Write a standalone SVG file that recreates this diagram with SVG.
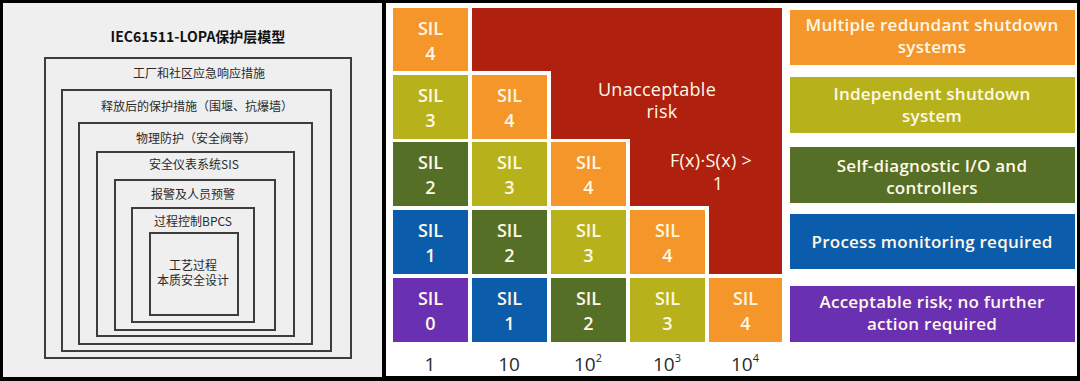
<svg xmlns="http://www.w3.org/2000/svg" width="1080" height="381" viewBox="0 0 1080 381">
<style>
.layer{fill:#efefef;stroke:#3d3d3d;stroke-width:2}
.cn{font-family:"Noto Sans CJK SC","Noto Sans",sans-serif;font-size:12px;fill:#2a2a2a;text-anchor:middle}
.title{font-family:"Noto Sans CJK SC","Noto Sans",sans-serif;font-size:14px;font-weight:bold;fill:#111;text-anchor:middle}
.sil{font-family:"Open Sans","Noto Sans",sans-serif;font-size:18px;font-weight:600;fill:#fff8e6;text-anchor:middle}
.big{font-family:"Open Sans","Noto Sans",sans-serif;font-size:18px;fill:#fff8e6;text-anchor:middle;letter-spacing:0.3px}
.lab{font-family:"Open Sans","Noto Sans",sans-serif;font-size:17px;font-weight:600;letter-spacing:0.25px;fill:#fff8e6;text-anchor:middle}
.ax{font-family:"Open Sans","Noto Sans",sans-serif;font-size:19px;fill:#2a2a2a;text-anchor:middle}
.sup{font-size:11px}
.or{fill:#f5962a}.ol{fill:#b7b21c}.gr{fill:#566f27}.bl{fill:#0b5caa}.pu{fill:#6a30b2}.rd{fill:#b0200e}
</style>
<rect x="0" y="0" width="1080" height="381" fill="#000"/>
<rect x="3" y="3" width="379" height="374" fill="#efefef"/>
<rect x="386" y="3" width="691" height="373" fill="#fff"/>

<g id="left-panel">
<text class="title" x="198" y="42">IEC61511-LOPA保护层模型</text>
<g id="layer1"><rect class="layer" x="45" y="58" width="306" height="300"/><text class="cn" x="199" y="77.5">工厂和社区应急响应措施</text></g>
<g id="layer2"><rect class="layer" x="62" y="90" width="269" height="261"/><text class="cn" x="197" y="111">释放后的保护措施（围堰、抗爆墙）</text></g>
<g id="layer3"><rect class="layer" x="79" y="123" width="233" height="221"/><text class="cn" x="196" y="142.5">物理防护（安全阀等）</text></g>
<g id="layer4"><rect class="layer" x="97" y="152" width="197" height="184"/><text class="cn" x="194" y="168.5">安全仪表系统SIS</text></g>
<g id="layer5"><rect class="layer" x="115" y="180" width="160" height="150"/><text class="cn" x="193" y="198.5">报警及人员预警</text></g>
<g id="layer6"><rect class="layer" x="132" y="208" width="122" height="114"/><text class="cn" x="193" y="226">过程控制BPCS</text></g>
<g id="layer7"><rect class="layer" x="150" y="233" width="88" height="82"/><text class="cn" x="193" y="269.5">工艺过程</text><text class="cn" x="193" y="284.5">本质安全设计</text></g>
</g>

<g id="risk-region">
<polygon class="rd" points="472,8 782,8 782,274 709,274 709,206 630,206 630,139 551,139 551,71 472,71"/>
<text class="big" x="657" y="96">Unacceptable</text>
<text class="big" x="662" y="118">risk</text>
<text class="big" x="711" y="167">F(x)·S(x) &gt;</text>
<text class="big" x="718" y="190">1</text>
</g>

<g id="r1c1"><rect class="or" x="393" y="8" width="75" height="63"/><text class="sil" x="430.5" y="35">SIL</text><text class="sil" x="430.5" y="60">4</text></g>

<g id="r2c1"><rect class="ol" x="393" y="75" width="75" height="64"/><text class="sil" x="430.5" y="102">SIL</text><text class="sil" x="430.5" y="127">3</text></g>
<g id="r2c2"><rect class="or" x="472" y="75" width="75" height="64"/><text class="sil" x="509.5" y="102">SIL</text><text class="sil" x="509.5" y="127">4</text></g>

<g id="r3c1"><rect class="gr" x="393" y="142" width="75" height="64"/><text class="sil" x="430.5" y="169">SIL</text><text class="sil" x="430.5" y="194">2</text></g>
<g id="r3c2"><rect class="ol" x="472" y="142" width="75" height="64"/><text class="sil" x="509.5" y="169">SIL</text><text class="sil" x="509.5" y="194">3</text></g>
<g id="r3c3"><rect class="or" x="551" y="142" width="75" height="64"/><text class="sil" x="588.5" y="169">SIL</text><text class="sil" x="588.5" y="194">4</text></g>

<g id="r4c1"><rect class="bl" x="393" y="210" width="75" height="64"/><text class="sil" x="430.5" y="237">SIL</text><text class="sil" x="430.5" y="262">1</text></g>
<g id="r4c2"><rect class="gr" x="472" y="210" width="75" height="64"/><text class="sil" x="509.5" y="237">SIL</text><text class="sil" x="509.5" y="262">2</text></g>
<g id="r4c3"><rect class="ol" x="551" y="210" width="75" height="64"/><text class="sil" x="588.5" y="237">SIL</text><text class="sil" x="588.5" y="262">3</text></g>
<g id="r4c4"><rect class="or" x="630" y="210" width="75" height="64"/><text class="sil" x="667.5" y="237">SIL</text><text class="sil" x="667.5" y="262">4</text></g>

<g id="r5c1"><rect class="pu" x="393" y="278" width="75" height="64"/><text class="sil" x="430.5" y="305">SIL</text><text class="sil" x="430.5" y="330">0</text></g>
<g id="r5c2"><rect class="bl" x="472" y="278" width="75" height="64"/><text class="sil" x="509.5" y="305">SIL</text><text class="sil" x="509.5" y="330">1</text></g>
<g id="r5c3"><rect class="gr" x="551" y="278" width="75" height="64"/><text class="sil" x="588.5" y="305">SIL</text><text class="sil" x="588.5" y="330">2</text></g>
<g id="r5c4"><rect class="ol" x="630" y="278" width="75" height="64"/><text class="sil" x="667.5" y="305">SIL</text><text class="sil" x="667.5" y="330">3</text></g>
<g id="r5c5"><rect class="or" x="709" y="278" width="73" height="64"/><text class="sil" x="745.5" y="305">SIL</text><text class="sil" x="745.5" y="330">4</text></g>

<g id="axis">
<text class="ax" x="430" y="371">1</text>
<text class="ax" x="509" y="371">10</text>
<text class="ax" x="588" y="371">10<tspan class="sup" dy="-9">2</tspan></text>
<text class="ax" x="667" y="371">10<tspan class="sup" dy="-9">3</tspan></text>
<text class="ax" x="745" y="371">10<tspan class="sup" dy="-9">4</tspan></text>
</g>

<g id="legend-sil4"><rect class="or" x="790" y="10" width="285" height="55"/><text class="lab" x="932" y="31">Multiple redundant shutdown</text><text class="lab" x="932" y="53">systems</text></g>
<g id="legend-sil3"><rect class="ol" x="790" y="77" width="285" height="56"/><text class="lab" x="932" y="100">Independent shutdown</text><text class="lab" x="932" y="122">system</text></g>
<g id="legend-sil2"><rect class="gr" x="790" y="147" width="285" height="56"/><text class="lab" x="932" y="172">Self-diagnostic I/O and</text><text class="lab" x="932" y="194">controllers</text></g>
<g id="legend-sil1"><rect class="bl" x="790" y="214" width="285" height="55"/><text class="lab" x="932" y="248">Process monitoring required</text></g>
<g id="legend-sil0"><rect class="pu" x="790" y="286" width="285" height="56"/><text class="lab" x="932" y="308">Acceptable risk; no further</text><text class="lab" x="932" y="330">action required</text></g>

<g id="connectors"/>
</svg>
